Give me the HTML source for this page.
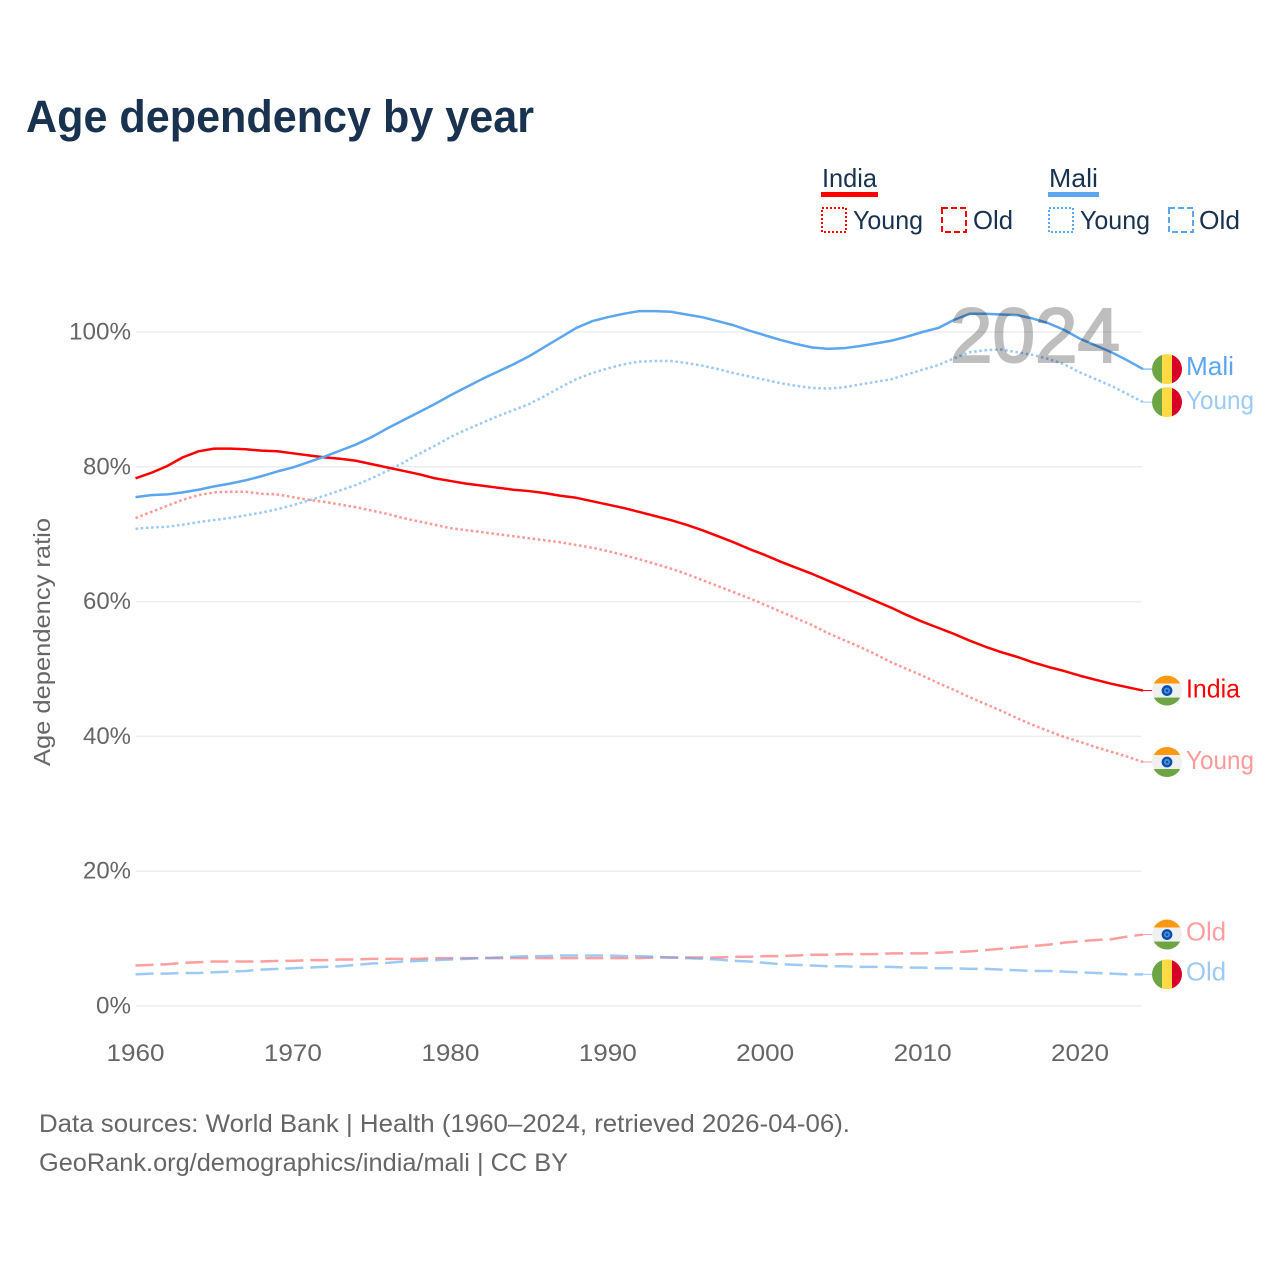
<!DOCTYPE html>
<html lang="en">
<head>
<meta charset="utf-8">
<title>Age dependency by year</title>
<style>
html,body{margin:0;padding:0;background:#fff;}
svg{display:block;font-family:"Liberation Sans",sans-serif;}
</style>
</head>
<body>
<svg id="chart" xmlns="http://www.w3.org/2000/svg" width="1280" height="1280" viewBox="0 0 1280 1280">
  <rect x="0" y="0" width="1280" height="1280" fill="#fff"/>
  <text x="26" y="132" font-size="45" font-weight="700" fill="#18324f" textLength="508" lengthAdjust="spacingAndGlyphs">Age dependency by year</text>

  <g font-size="26" fill="#18324f">
    <text x="822" y="187" textLength="55" lengthAdjust="spacingAndGlyphs">India</text>
    <rect x="821" y="192" width="57" height="5" fill="#ff0000"/>
    <rect x="822" y="208" width="24" height="24" fill="none" stroke="#ff0000" stroke-width="2" stroke-dasharray="2 2"/>
    <text x="853" y="229" textLength="70" lengthAdjust="spacingAndGlyphs">Young</text>
    <rect x="942" y="208" width="24" height="24" fill="none" stroke="#ff0000" stroke-width="2" stroke-dasharray="6 3"/>
    <text x="973" y="229" textLength="40" lengthAdjust="spacingAndGlyphs">Old</text>
    <text x="1049" y="187" textLength="49" lengthAdjust="spacingAndGlyphs">Mali</text>
    <rect x="1048" y="192" width="51" height="5" fill="#5ba6ef"/>
    <rect x="1049" y="208" width="24" height="24" fill="none" stroke="#5ba6ef" stroke-width="2" stroke-dasharray="2 2"/>
    <text x="1080" y="229" textLength="70" lengthAdjust="spacingAndGlyphs">Young</text>
    <rect x="1169" y="208" width="24" height="24" fill="none" stroke="#5ba6ef" stroke-width="2" stroke-dasharray="6 3"/>
    <text x="1199" y="229" textLength="41" lengthAdjust="spacingAndGlyphs">Old</text>
  </g>

  <text transform="translate(50,642) rotate(-90)" text-anchor="middle" font-size="23" fill="#666" textLength="248" lengthAdjust="spacingAndGlyphs">Age dependency ratio</text>

  <g id="grid"></g>
  <g id="y-ticks"></g>
  <g id="x-ticks"></g>
  <g id="series"></g>

  <text id="year-label" x="1035" y="362" text-anchor="middle" font-size="77" fill="#000" stroke="#000" stroke-width="2" opacity="0.25" textLength="170" lengthAdjust="spacingAndGlyphs">2024</text>

  <defs>
    <clipPath id="flag-clip"><circle cx="0" cy="0" r="15"/></clipPath>
  </defs>
  <g id="end-labels"></g>

  <g font-size="25" fill="#666">
    <text x="39" y="1132" textLength="811" lengthAdjust="spacingAndGlyphs">Data sources: World Bank | Health (1960–2024, retrieved 2026-04-06).</text>
    <text x="39" y="1171" textLength="529" lengthAdjust="spacingAndGlyphs">GeoRank.org/demographics/india/mali | CC BY</text>
  </g>
</svg>

<script>
// Chart data (percent), one value per year 1960..2024
const firstYear = 1960;
const lastYear = 2024;
const xTickYears = [1960, 1970, 1980, 1990, 2000, 2010, 2020];
const yTickValues = [0, 20, 40, 60, 80, 100];
const indiaTotal = [78.3,79.1,80.1,81.4,82.3,82.7,82.7,82.6,82.4,82.3,
  82.0,81.7,81.4,81.2,80.9,80.4,79.9,79.4,78.9,78.3,
  77.9,77.5,77.2,76.9,76.6,76.4,76.1,75.7,75.4,74.9,
  74.4,73.9,73.3,72.7,72.1,71.4,70.6,69.7,68.8,67.8,
  66.9,65.9,65.0,64.1,63.1,62.1,61.1,60.1,59.1,58.0,
  57.0,56.1,55.2,54.2,53.3,52.5,51.8,51.0,50.3,49.7,
  49.0,48.4,47.8,47.3,46.8];
const indiaYoung = [72.4,73.3,74.2,75.1,75.8,76.2,76.3,76.3,76.0,75.9,
  75.5,75.1,74.8,74.4,74.0,73.5,73.0,72.4,71.9,71.4,
  70.9,70.6,70.3,70.0,69.7,69.4,69.1,68.8,68.4,68.0,
  67.5,66.9,66.3,65.6,64.9,64.1,63.2,62.3,61.4,60.5,
  59.5,58.5,57.5,56.5,55.3,54.3,53.3,52.2,51.0,50.0,
  49.0,47.9,46.9,45.8,44.8,43.8,42.7,41.7,40.8,39.9,
  39.2,38.4,37.7,37.0,36.2];
const indiaOld = [6.0,6.1,6.2,6.4,6.5,6.6,6.6,6.6,6.6,6.7,
  6.7,6.8,6.8,6.9,6.9,7.0,7.0,7.0,7.0,7.1,
  7.1,7.1,7.1,7.1,7.1,7.1,7.1,7.1,7.1,7.1,
  7.1,7.1,7.1,7.2,7.2,7.2,7.2,7.2,7.3,7.3,
  7.4,7.4,7.5,7.6,7.6,7.7,7.7,7.7,7.8,7.8,
  7.8,7.9,8.0,8.1,8.3,8.5,8.7,8.9,9.1,9.4,
  9.6,9.8,9.9,10.3,10.6];
const maliTotal = [75.5,75.8,75.9,76.2,76.6,77.1,77.5,78.0,78.6,79.3,
  79.9,80.7,81.5,82.4,83.3,84.4,85.7,86.9,88.1,89.3,
  90.6,91.8,93.0,94.1,95.2,96.4,97.8,99.2,100.6,101.6,
  102.2,102.7,103.1,103.1,103.0,102.6,102.2,101.6,101.0,100.2,
  99.5,98.8,98.2,97.7,97.5,97.6,97.9,98.3,98.7,99.3,
  100.0,100.6,101.8,102.7,102.7,102.6,102.5,102.0,101.3,100.3,
  99.0,98.0,97.0,95.8,94.5];
const maliYoung = [70.8,71.0,71.1,71.4,71.8,72.1,72.4,72.8,73.2,73.7,
  74.3,75.0,75.7,76.5,77.3,78.3,79.4,80.6,81.9,83.1,
  84.4,85.5,86.5,87.5,88.4,89.3,90.5,91.8,93.0,93.9,
  94.6,95.2,95.6,95.7,95.7,95.4,95.0,94.5,93.9,93.4,
  92.9,92.4,92.0,91.7,91.6,91.8,92.2,92.6,93.0,93.7,
  94.4,95.1,96.1,97.0,97.3,97.4,97.0,96.6,96.0,95.2,
  94.0,93.0,92.0,90.8,89.6];
const maliOld = [4.7,4.8,4.8,4.9,4.9,5.0,5.1,5.2,5.4,5.5,
  5.6,5.7,5.8,5.9,6.1,6.3,6.4,6.6,6.7,6.8,
  6.9,7.0,7.1,7.2,7.3,7.4,7.4,7.5,7.5,7.5,
  7.5,7.4,7.4,7.3,7.2,7.1,7.0,6.9,6.7,6.6,
  6.4,6.2,6.1,6.0,5.9,5.9,5.8,5.8,5.8,5.7,
  5.7,5.6,5.6,5.5,5.5,5.4,5.3,5.2,5.2,5.1,
  5.0,4.9,4.8,4.7,4.7];

const SVGNS = 'http://www.w3.org/2000/svg';
const xAxis = function (year) { return 135.5 + (year - 1960) * (1080 - 135.5) / 60; };
const yAxis = function (v) { return 1006 - v * 6.74; };
const gridRight = 1142;

function make(tag, parent) {
  const el = document.createElementNS(SVGNS, tag);
  parent.appendChild(el);
  return el;
}

const gridG = document.getElementById('grid');
const yTickG = document.getElementById('y-ticks');
const xTickG = document.getElementById('x-ticks');
const seriesG = document.getElementById('series');
const endG = document.getElementById('end-labels');

yTickValues.forEach(function (v) {
  const line = make('line', gridG);
  
  
  line.setAttribute('x1', 136);
  line.setAttribute('x2', gridRight);
  line.setAttribute('y1', yAxis(v));
  line.setAttribute('y2', yAxis(v));
  line.setAttribute('stroke', '#eeeeee');
  line.setAttribute('stroke-width', 1.5);

  const label = make('text', yTickG);
  
  
  label.setAttribute('x', 131);
  label.setAttribute('y', yAxis(v) + 7.5);
  label.setAttribute('text-anchor', 'end');
  label.setAttribute('font-size', 24);
  label.setAttribute('fill', '#666');
  label.setAttribute('textLength', String(v).length === 3 ? 62 : (String(v).length === 2 ? 48 : 35));
  label.setAttribute('lengthAdjust', 'spacingAndGlyphs');
  label.textContent = v + '%';
});

xTickYears.forEach(function (year) {
  const label = make('text', xTickG);
  
  
  label.setAttribute('x', xAxis(year));
  label.setAttribute('y', 1061);
  label.setAttribute('text-anchor', 'middle');
  label.setAttribute('font-size', 24);
  label.setAttribute('fill', '#666');
  label.setAttribute('textLength', 58);
  label.setAttribute('lengthAdjust', 'spacingAndGlyphs');
  label.textContent = year;
});

function drawSeries(values, color, opacity, dash, name) {
  const pts = values.map(function (v, i) {
    return xAxis(firstYear + i).toFixed(2) + ',' + yAxis(v).toFixed(2);
  });
  const path = make('polyline', seriesG);
  
  
  path.setAttribute('points', pts.join(' '));
  path.setAttribute('fill', 'none');
  path.setAttribute('stroke', color);
  path.setAttribute('stroke-opacity', opacity);
  path.setAttribute('stroke-width', 2.5);
  path.setAttribute('stroke-linejoin', 'round');
  if (dash) path.setAttribute('stroke-dasharray', dash);
}

const RED = '#ff0000';
const BLUE = '#5ba6ef';
const DOT = '2.6 2.6';
const DASH = '18 7';
drawSeries(indiaOld, RED, 0.38, DASH, 'line-india-old');
drawSeries(maliOld, BLUE, 0.6, DASH, 'line-mali-old');
drawSeries(indiaYoung, RED, 0.4, DOT, 'line-india-young');
drawSeries(maliYoung, BLUE, 0.6, DOT, 'line-mali-young');
drawSeries(indiaTotal, RED, 1, null, 'line-india-total');
drawSeries(maliTotal, BLUE, 1, null, 'line-mali-total');

function drawFlag(country, parent) {
  const clip = make('g', parent);
  clip.setAttribute('clip-path', 'url(#flag-clip)');
  function band(x, y, w, h, fill) {
    const r = make('rect', clip);
    r.setAttribute('x', x);
    r.setAttribute('y', y);
    r.setAttribute('width', w);
    r.setAttribute('height', h);
    r.setAttribute('fill', fill);
  }
  if (country === 'india') {
    band(-15, -15, 30, 8, '#ff9811');
    band(-15, -7, 30, 14, '#f0f0f0');
    band(-15, 7, 30, 8, '#6da544');
    const wheel = make('circle', clip);
    wheel.setAttribute('r', 5.4);
    wheel.setAttribute('fill', '#0052b4');
    const hub = make('circle', clip);
    hub.setAttribute('r', 3);
    hub.setAttribute('fill', '#5b8ccc');
    const dot = make('circle', clip);
    dot.setAttribute('r', 1.3);
    dot.setAttribute('fill', '#0052b4');
  } else {
    band(-15, -15, 10, 30, '#6da544');
    band(-5, -15, 10, 30, '#ffda44');
    band(5, -15, 10, 30, '#d80027');
  }
}

function drawEnd(values, country, text, color, opacity, name, nudge) {
  const y = yAxis(values[values.length - 1]);
  const group = make('g', endG);
  
  

  const conn = make('line', group);
  conn.setAttribute('x1', xAxis(lastYear));
  conn.setAttribute('x2', 1152);
  conn.setAttribute('y1', y);
  conn.setAttribute('y2', y);
  conn.setAttribute('stroke', color);
  conn.setAttribute('stroke-opacity', opacity);
  conn.setAttribute('stroke-width', 1);

  const flag = make('g', group);
  
  
  flag.setAttribute('transform', 'translate(1167,' + y + ')');
  drawFlag(country, flag);

  const label = make('text', group);
  
  
  label.setAttribute('x', 1186);
  label.setAttribute('y', y + nudge);
  label.setAttribute('font-size', 26);
  label.setAttribute('fill', color);
  label.setAttribute('fill-opacity', opacity);
  label.setAttribute('lengthAdjust', 'spacingAndGlyphs');
  label.setAttribute('textLength', text === 'Young' ? 68 : (text === 'Old' ? 40 : (text === 'India' ? 54 : 48)));
  label.textContent = text;
}

drawEnd(maliTotal, 'mali', 'Mali', BLUE, 1, 'end-label-mali', 6);
drawEnd(maliYoung, 'mali', 'Young', BLUE, 0.6, 'end-label-mali-young', 7);
drawEnd(indiaTotal, 'india', 'India', RED, 1, 'end-label-india', 7);
drawEnd(indiaYoung, 'india', 'Young', RED, 0.4, 'end-label-india-young', 7);
drawEnd(indiaOld, 'india', 'Old', RED, 0.38, 'end-label-india-old', 6);
drawEnd(maliOld, 'mali', 'Old', BLUE, 0.6, 'end-label-mali-old', 6);
</script>
</body>
</html>
